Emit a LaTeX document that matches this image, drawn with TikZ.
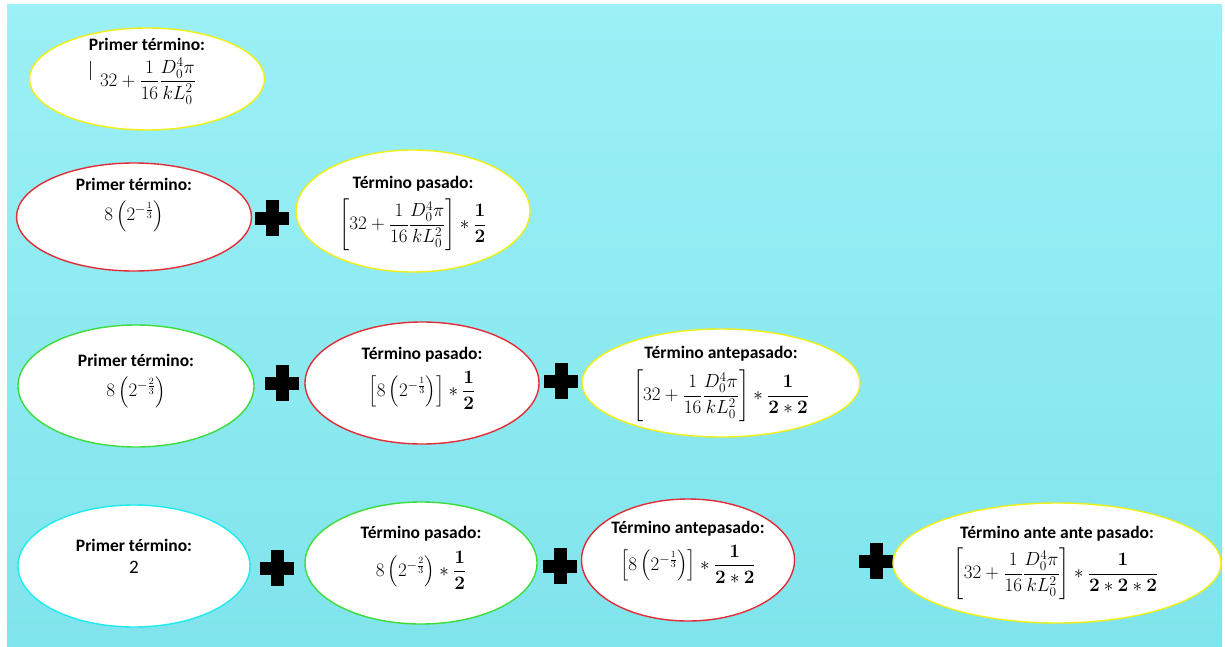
\documentclass[tikz,border=0pt]{standalone}
\usepackage{fix-cm}
\usepackage{amsmath}
\usepackage[no-math]{fontspec}
\setmainfont{Carlito}
\usetikzlibrary{shapes.geometric}
\definecolor{bgtop}{RGB}{156,240,246}
\definecolor{bgbot}{RGB}{128,228,236}
\definecolor{ey}{RGB}{240,240,20}
\definecolor{er}{RGB}{225,45,55}
\definecolor{eg}{RGB}{60,220,60}
\definecolor{ec}{RGB}{30,235,240}
\tikzset{
  ell/.style={ellipse, fill=white, line width=1.4pt, inner sep=0pt},
  hdtxt/.style={inner sep=0pt, font=\fontsize{17.5}{20}\selectfont\bfseries},
  mtxt/.style={inner sep=0pt, font=\fontsize{19}{22}\selectfont},
  plussign/.style={minimum width=34pt, minimum height=36pt, inner sep=0pt,
    path picture={
      \fill[black] ([xshift=-17pt,yshift=-6.5pt]path picture bounding box.center) rectangle ++(34pt,13pt);
      \fill[black] ([xshift=-6.5pt,yshift=-18pt]path picture bounding box.center) rectangle ++(13pt,36pt);
    }},
}
\newcommand{\bigA}{\left[32+\dfrac{1}{16}\dfrac{D_0^4\pi}{kL_0^2}\right]}
\newcommand{\eA}[1]{8\left(2^{-\frac{#1}{3}}\right)}
\begin{document}
\begin{tikzpicture}[x=1pt,y=-1pt]
\useasboundingbox (0,0) rectangle (1225,647);
\fill[white] (0,0) rectangle (1225,647);
\shade[top color=bgtop, bottom color=bgbot] (7,5) rectangle (1222,647);

% Row 1
\node[ell, draw=ey, minimum width=235pt, minimum height=102pt] (a1) at (147,79) {};
\node[hdtxt] (a1h) at (147,44) {Primer término:};
\node[mtxt] (a1m) at (148,81) {$32+\dfrac{1}{16}\dfrac{D_0^4\pi}{kL_0^2}$};
\coordinate (cur1) at (90,61);
\coordinate (cur2) at (90,80);
\draw[line width=1pt, black!80] (cur1) -- (cur2);

% Row 2
\node[ell, draw=er, minimum width=235pt, minimum height=108pt] (b1) at (134,217) {};
\node[hdtxt] (b1h) at (134,184) {Primer término:};
\node[mtxt] (b1m) at (134,216) {$\eA{1}$};
\node[plussign] (bp1) at (272,218) {};
\node[ell, draw=ey, minimum width=234pt, minimum height=122pt] (b2) at (413,211) {};
\node[hdtxt] (b2h) at (413,184) {Término pasado:};
\node[mtxt] (b2m) at (413,225) {$\bigA\ast\dfrac{\mathbf{1}}{\mathbf{2}}$};

% Row 3
\node[ell, draw=eg, minimum width=236pt, minimum height=122pt] (c1) at (136,386) {};
\node[hdtxt] (c1h) at (136,360) {Primer término:};
\node[mtxt] (c1m) at (136,392) {$\eA{2}$};
\node[plussign] (cp1) at (282,383) {};
\node[ell, draw=er, minimum width=234pt, minimum height=122pt] (c2) at (422,383) {};
\node[hdtxt] (c2h) at (422,355) {Término pasado:};
\node[mtxt] (c2m) at (422,390) {$\left[\eA{1}\right]\ast\dfrac{\mathbf{1}}{\mathbf{2}}$};
\node[plussign] (cp2) at (561,381) {};
\node[ell, draw=ey, minimum width=278pt, minimum height=108pt] (c3) at (721,383) {};
\node[hdtxt] (c3h) at (721,354) {Término antepasado:};
\node[mtxt] (c3m) at (721,396) {$\bigA\ast\dfrac{\mathbf{1}}{\mathbf{2}\ast\mathbf{2}}$};

% Row 4
\node[ell, draw=ec, minimum width=232pt, minimum height=122pt] (d1) at (134,566) {};
\node[hdtxt] (d1h) at (134,545) {Primer término:};
\node[mtxt] (d1m) at (134,567) {2};
\node[plussign] (dp1) at (277,568) {};
\node[ell, draw=eg, minimum width=232pt, minimum height=122pt] (d2) at (421,563) {};
\node[hdtxt] (d2h) at (421,534) {Término pasado:};
\node[mtxt] (d2m) at (421,570) {$\eA{2}\ast\dfrac{\mathbf{1}}{\mathbf{2}}$};
\node[plussign] (dp2) at (560,566) {};
\node[ell, draw=er, minimum width=213pt, minimum height=122pt] (d3) at (688,560) {};
\node[hdtxt] (d3h) at (688,529) {Término antepasado:};
\node[mtxt] (d3m) at (688,564) {$\left[\eA{1}\right]\ast\dfrac{\mathbf{1}}{\mathbf{2}\ast\mathbf{2}}$};
\node[plussign] (dp3) at (876,561) {};
\node[ell, draw=ey, minimum width=328pt, minimum height=120pt] (d4) at (1057,563) {};
\node[hdtxt] (d4h) at (1057,534) {Término ante ante pasado:};
\node[mtxt] (d4m) at (1056,574) {$\bigA\ast\dfrac{\mathbf{1}}{\mathbf{2}\ast\mathbf{2}\ast\mathbf{2}}$};
\end{tikzpicture}
\end{document}
